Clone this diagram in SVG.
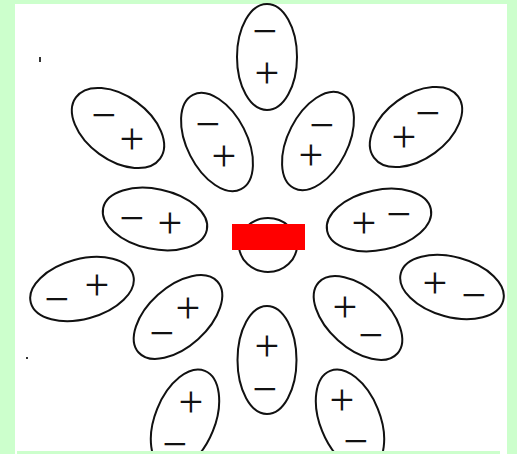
<svg xmlns="http://www.w3.org/2000/svg" width="517" height="454" viewBox="0 0 517 454">
<style>
.dip{fill:none;stroke:#111;stroke-width:2}
.s{font-family:"Liberation Serif","Times New Roman",serif;font-size:44px;fill:#111;text-anchor:middle}
</style>
<rect x="0" y="0" width="517" height="454" fill="#ccffcc"/>
<rect x="15" y="4" width="492" height="450" fill="#ffffff"/>
<g id="marks">
<rect x="39" y="57" width="2" height="5" fill="#333"/>
<rect x="26" y="357" width="2" height="2" fill="#333"/>
</g>
<g id="connectors"></g>
<g id="d1"><ellipse class="dip" cx="267" cy="57" rx="30" ry="53"/><text class="s" x="265" y="46">−</text><text class="s" x="267" y="88">+</text></g>
<g id="d2"><ellipse class="dip" cx="0" cy="0" rx="52" ry="32" transform="translate(118 128) rotate(36)"/><text class="s" x="104" y="130">−</text><text class="s" x="132" y="154">+</text></g>
<g id="d3"><ellipse class="dip" cx="0" cy="0" rx="53" ry="30" transform="translate(217 142) rotate(63)"/><text class="s" x="208" y="139">−</text><text class="s" x="224" y="171">+</text></g>
<g id="d4"><ellipse class="dip" cx="0" cy="0" rx="53" ry="30" transform="translate(318 141) rotate(-63)"/><text class="s" x="322" y="140">−</text><text class="s" x="311" y="170">+</text></g>
<g id="d5"><ellipse class="dip" cx="0" cy="0" rx="52" ry="32" transform="translate(416 127) rotate(-36)"/><text class="s" x="428" y="128">−</text><text class="s" x="404" y="152">+</text></g>
<g id="d6"><ellipse class="dip" cx="0" cy="0" rx="53" ry="30" transform="translate(155 219) rotate(12)"/><text class="s" x="132" y="233">−</text><text class="s" x="170" y="238">+</text></g>
<g id="d7"><ellipse class="dip" cx="0" cy="0" rx="53" ry="30" transform="translate(379 220) rotate(-12)"/><text class="s" x="364" y="238">+</text><text class="s" x="399" y="229">−</text></g>
<g id="d8"><ellipse class="dip" cx="0" cy="0" rx="53" ry="30" transform="translate(82 289) rotate(-15)"/><text class="s" x="57" y="314">−</text><text class="s" x="97" y="300">+</text></g>
<g id="d9"><ellipse class="dip" cx="0" cy="0" rx="53" ry="30" transform="translate(452 287) rotate(15)"/><text class="s" x="435" y="298">+</text><text class="s" x="474" y="310">−</text></g>
<g id="d10"><ellipse class="dip" cx="0" cy="0" rx="53" ry="30" transform="translate(178 317) rotate(-42)"/><text class="s" x="188" y="323">+</text><text class="s" x="162" y="348">−</text></g>
<g id="d11"><ellipse class="dip" cx="0" cy="0" rx="53" ry="30" transform="translate(358 318) rotate(42)"/><text class="s" x="345" y="322">+</text><text class="s" x="371" y="350">−</text></g>
<g id="d12"><ellipse class="dip" cx="267" cy="360" rx="29.5" ry="54"/><text class="s" x="267" y="361">+</text><text class="s" x="265" y="404">−</text></g>
<g id="d13"><ellipse class="dip" cx="0" cy="0" rx="53" ry="30" transform="translate(350 420) rotate(68)"/><text class="s" x="342" y="415">+</text><text class="s" x="356" y="456">−</text></g>
<g id="d14"><ellipse class="dip" cx="0" cy="0" rx="53" ry="30" transform="translate(185 420) rotate(-68)"/><text class="s" x="191" y="417">+</text><text class="s" x="175" y="459">−</text></g>
<g id="ion"><ellipse class="dip" cx="268" cy="245" rx="29" ry="27"/></g>
<rect x="17" y="451" width="483" height="3" fill="#ccffcc"/>
<rect x="232" y="224" width="73" height="26" fill="#ff0000"/>
</svg>
